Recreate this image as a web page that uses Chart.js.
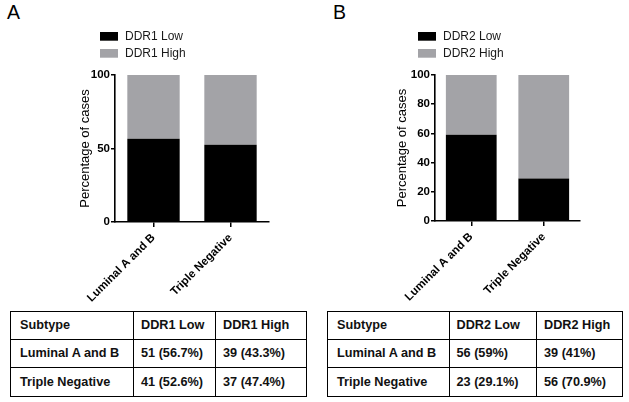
<!DOCTYPE html>
<html>
<head>
<meta charset="utf-8">
<script src="https://cdn.jsdelivr.net/npm/chart.js@4"></script>
<style>
  html, body { margin:0; padding:0; background:#fff; }
  body { width:629px; height:402px; position:relative; overflow:hidden; font-family:"Liberation Sans", Arial, sans-serif; }
  .panel { position:absolute; top:0; height:308px; }
  .letter { position:absolute; font-size:19.5px; line-height:1; color:#000; }
  table.t { position:absolute; border-collapse:collapse; table-layout:fixed; font-weight:bold; font-size:12.7px; color:#111; }
  table.t td { border:1.3px solid #000; padding:0 0 0 7px; white-space:nowrap; vertical-align:middle; }
  table.t td.c0 { padding-left:9px; }
</style>
</head>
<body>
<div class="letter" style="left:7px;top:3px;">A</div>
<div class="letter" style="left:333px;top:3px;">B</div>
<div class="panel" style="left:0;width:310px;"><canvas id="cA" width="310" height="308"></canvas></div>
<div class="panel" style="left:320px;width:309px;"><canvas id="cB" width="309" height="308"></canvas></div>
<table class="t" id="tA" style="left:10px;top:311px;width:296px;"></table>
<table class="t" id="tB" style="left:327px;top:311px;width:295px;"></table>
<script>
// ---- data ----
const categories = ['Luminal A and B', 'Triple Negative'];
const labelsA = ['DDR1 Low', 'DDR1 High'];
const labelsB = ['DDR2 Low', 'DDR2 High'];
const countLowA = [51, 41];
const countHighA = [39, 37];
const pctLowA = [56.7, 52.6];
const pctHighA = [43.3, 47.4];
const countLowB = [56, 23];
const countHighB = [39, 56];
const pctLowB = [59, 29.1];
const pctHighB = [41, 70.9];
const yTitle = 'Percentage of cases';
const tableFirstHeader = 'Subtype';

const FONT = '"Liberation Sans", Arial, sans-serif';
const LOW = '#000000';
const HIGH = '#a3a3a7';

const legendPlugin = {
  id: 'stackLegend',
  afterDraw(chart, args, opts) {
    const ctx = chart.ctx;
    ctx.save();
    chart.data.datasets.forEach((ds, i) => {
      const y = opts.y + i * 17;
      ctx.fillStyle = ds.backgroundColor;
      ctx.fillRect(opts.x, y, 18, 8.7);
      ctx.fillStyle = '#1a1a1a';
      ctx.font = '12px ' + FONT;
      ctx.textBaseline = 'middle';
      ctx.textAlign = 'left';
      ctx.fillText(ds.label, opts.x + 25, y + 4.6);
    });
    ctx.restore();
  }
};

function makeChart(id, labels, low, high, step, cfg) {
  return new Chart(document.getElementById(id), {
    type: 'bar',
    data: {
      labels: categories,
      datasets: [
        { label: labels[0], data: low, backgroundColor: LOW, barPercentage: cfg.barPct, categoryPercentage: 1.0, borderWidth: 0 },
        { label: labels[1], data: high, backgroundColor: HIGH, barPercentage: cfg.barPct, categoryPercentage: 1.0, borderWidth: 0 }
      ]
    },
    options: {
      responsive: false,
      animation: false,
      devicePixelRatio: 1,
      layout: { padding: { left: cfg.padLeft, top: 75, right: cfg.padRight, bottom: 0 } },
      plugins: {
        legend: { display: false },
        tooltip: { enabled: false },
        stackLegend: { x: cfg.legX, y: 32 }
      },
      scales: {
        x: {
          stacked: true,
          offset: true,
          grid: { display: true, drawOnChartArea: false, drawTicks: true, tickLength: 5, offset: false, color: '#000', lineWidth: 1.5 },
          border: { display: true, color: '#000', width: 1.6 },
          ticks: { color: '#000', font: { family: FONT, size: 11.5, weight: 'bold' }, minRotation: 45, maxRotation: 45, padding: 4, autoSkip: false },
          afterFit(s) { s.height = cfg.xH; }
        },
        y: {
          stacked: true,
          min: 0, max: 100,
          grid: { display: true, drawOnChartArea: false, drawTicks: true, tickLength: 4, color: '#000', lineWidth: 1.5 },
          border: { display: true, color: '#000', width: 1.6 },
          ticks: { stepSize: step, color: '#000', font: { family: FONT, size: 11.5, weight: 'bold' }, padding: 1 },
          title: { display: true, text: yTitle, color: '#000', font: { family: FONT, size: 13 }, padding: 0 },
          afterFit(s) { s.width = cfg.yW; }
        }
      }
    },
    plugins: [legendPlugin]
  });
}

makeChart('cA', labelsA, pctLowA, pctHighA, 50, { padLeft: 78, yW: 37, padRight: 41, xH: 86, barPct: 0.68, legX: 100 });
makeChart('cB', labelsB, pctLowB, pctHighB, 20, { padLeft: 75, yW: 40, padRight: 49, xH: 87, barPct: 0.70, legX: 98 });

function buildTable(id, headers, cLow, pLow, cHigh, pHigh, widths, heights) {
  const t = document.getElementById(id);
  const cg = document.createElement('colgroup');
  widths.forEach(w => { const c = document.createElement('col'); c.style.width = w + 'px'; cg.appendChild(c); });
  t.appendChild(cg);
  const rows = [[tableFirstHeader, headers[0], headers[1]]];
  categories.forEach((cat, i) => {
    rows.push([cat, cLow[i] + ' (' + pLow[i] + '%)', cHigh[i] + ' (' + pHigh[i] + '%)']);
  });
  rows.forEach((r, ri) => {
    const tr = document.createElement('tr');
    tr.style.height = heights[ri] + 'px';
    r.forEach((v, ci) => {
      const td = document.createElement('td');
      td.textContent = v;
      if (ci === 0) td.className = 'c0';
      tr.appendChild(td);
    });
    t.appendChild(tr);
  });
}
buildTable('tA', labelsA, countLowA, pctLowA, countHighA, pctHighA, [123, 82, 91], [27.5, 28.5, 29]);
buildTable('tB', labelsB, countLowB, pctLowB, countHighB, pctHighB, [121.5, 87.5, 86], [27.5, 28.5, 29]);
</script>
</body>
</html>
